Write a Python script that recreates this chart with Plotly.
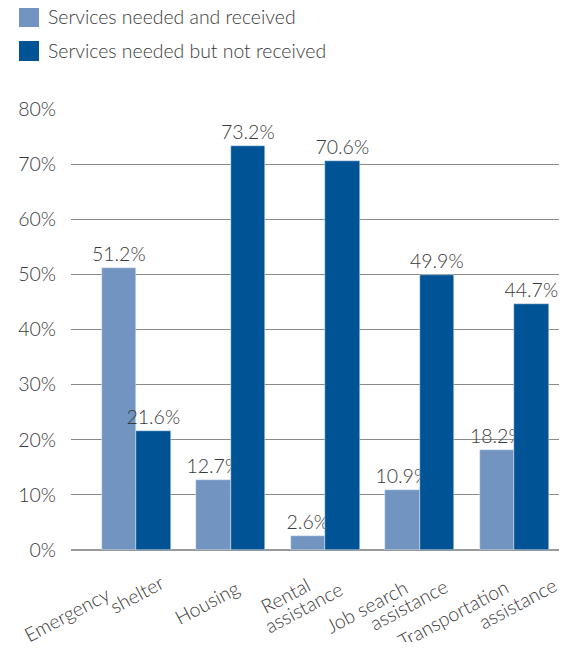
import plotly.graph_objects as go

categories = ["Emergency shelter", "Housing", "Rental assistance", "Job search assistance", "Transportation assistance"]
category_lines = [["Emergency", "shelter"], ["Housing"], ["Rental", "assistance"],
                  ["Job search", "assistance"], ["Transportation", "assistance"]]
received = [51.2, 12.7, 2.6, 10.9, 18.2]
not_received = [21.6, 73.2, 70.6, 49.9, 44.7]
series_names = ["Services needed and received", "Services needed but not received"]
y_ticks = [0, 10, 20, 30, 40, 50, 60, 70, 80]

LIGHT = "#7294C1"
DARK = "#005496"
FONT = "Lato, 'Noto Sans', sans-serif"
TXT = "#3a3a3a"

xs = list(range(len(categories)))
W = 0.365

fig = go.Figure()
for vals, name, col, off in [(received, series_names[0], LIGHT, -W), (not_received, series_names[1], DARK, 0)]:
    fig.add_trace(go.Bar(x=xs, y=vals, name=name, marker_color=col,
                         width=W, offset=off, text=[f"{v:.1f}%" for v in vals],
                         textposition="outside", cliponaxis=False, constraintext="none",
                         textfont=dict(size=19.5, color=TXT, family=FONT, weight=300),
                         showlegend=False))

# screen-pixel helpers (plot area: x 71..559, y 109..550)
L, PW, T, PH = 71, 488, 109, 441
XR = (-0.688, 4.476)
UNIT = PW / (XR[1] - XR[0])
def px(x): return (x - L) / PW
def py(y): return (T + PH - y) / PH
def cat_px(i): return L + (xs[i] - XR[0]) * UNIT

# manual legend (larger squares than plotly's default legend icons)
for i, (name, col) in enumerate(zip(series_names, [LIGHT, DARK])):
    top = 7 + 34 * i
    fig.add_shape(type="rect", xref="paper", yref="paper",
                  x0=px(19), x1=px(39), y0=py(top + 20), y1=py(top),
                  fillcolor=col, line_width=0)
    fig.add_annotation(xref="paper", yref="paper", x=px(46), y=py(top + 10),
                       text=name, showarrow=False, xanchor="left", yanchor="middle",
                       width=330, align="left",
                       font=dict(size=19.4, color=TXT, family=FONT, weight=300))

# rotated category labels, one annotation per line (offset px from category centre, screen y)
label_layout = [[(-70, 614), (0, 594)], [(-24, 602)], [(-40, 595), (-22, 607)],
                [(-53, 606), (-11, 604)], [(-61, 613), (3, 603)]]
for i, lines in enumerate(category_lines):
    for line, (dx, ypx) in zip(lines, label_layout[i]):
        fig.add_annotation(xref="paper", yref="paper", x=px(cat_px(i) + dx), y=py(ypx),
                           text=line, showarrow=False, textangle=-28,
                           xanchor="center", yanchor="middle",
                           font=dict(size=19.5, color=TXT, family=FONT, weight=300))

# page body has an 8px margin, so figure coords = screen coords - 8
fig.update_layout(
    width=557, height=634,
    margin=dict(l=63, r=6, t=101, b=92),
    plot_bgcolor="white", paper_bgcolor="white",
    bargap=0, showlegend=False,
    font=dict(family=FONT, color=TXT, size=19),
)
fig.update_xaxes(range=list(XR), tickvals=xs, showticklabels=False,
                 showgrid=False, zeroline=False, automargin=False,
                 showline=False, ticks="")
fig.update_yaxes(range=[0, 80], tickvals=y_ticks, ticktext=[f"{v}%" for v in y_ticks],
                 showgrid=True, gridcolor="#8a8a8a", gridwidth=1, automargin=False,
                 zeroline=True, zerolinecolor="#999999", zerolinewidth=2,
                 showline=False, ticks="", ticklabelstandoff=14,
                 tickfont=dict(size=19.5, color=TXT, family=FONT, weight=300))

fig.write_html("out.html")
